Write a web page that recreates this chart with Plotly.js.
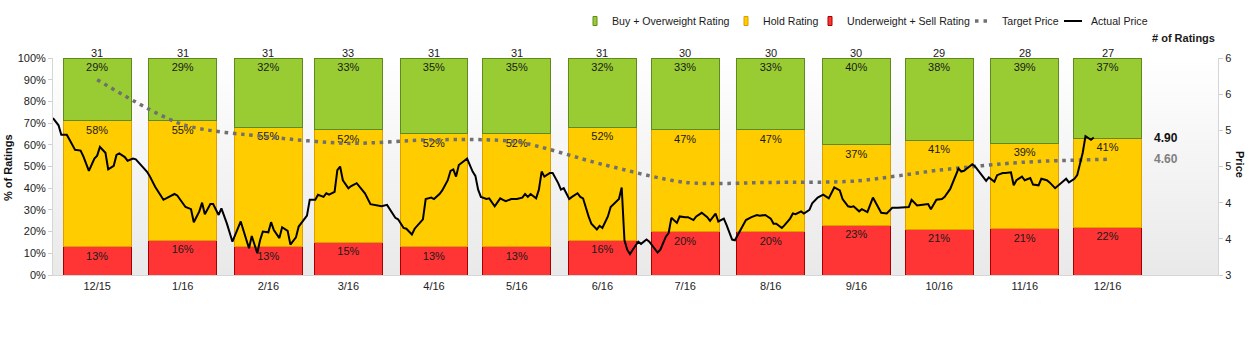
<!DOCTYPE html>
<html>
<head>
<meta charset="utf-8">
<script src="https://cdn.plot.ly/plotly-3.0.1.min.js"></script>
<style>html,body{margin:0;padding:0;background:#fff;}#chart{width:1249px;height:338px;}</style>
</head>
<body>
<div id="chart"></div>
<script>
// ---- data ----
const categories = ['12/15','1/16','2/16','3/16','4/16','5/16','6/16','7/16','8/16','9/16','10/16','11/16','12/16'];
const barDates = ['2015-12-16','2016-01-16','2016-02-16','2016-03-16','2016-04-16','2016-05-16','2016-06-16','2016-07-16','2016-08-16','2016-09-16','2016-10-16','2016-11-16','2016-12-16'];
const buyPct  = [29,29,32,33,35,35,32,33,33,40,38,39.3,37];
const holdPct = [58,55,55,52,52,52,52,47,47,37,41,39.3,41];
const sellPct = [13,16,13,15,13,13,16,20,20,23,21,21.4,22];
const ratingCounts = [31,31,31,33,31,31,31,30,30,30,29,28,27];
const targetPrice = [5.70,5.08,4.91,4.82,4.87,4.84,4.53,4.28,4.28,4.30,4.45,4.56,4.60];

const priceDates = [
'2015-11-30','2015-12-02','2015-12-03','2015-12-05','2015-12-06','2015-12-08','2015-12-10','2015-12-11','2015-12-13','2015-12-15',
'2015-12-16','2015-12-17','2015-12-19','2015-12-20','2015-12-22','2015-12-23','2015-12-24','2015-12-26','2015-12-27','2015-12-29',
'2015-12-30','2016-01-01','2016-01-03','2016-01-04','2016-01-06','2016-01-09','2016-01-11','2016-01-13','2016-01-14','2016-01-16',
'2016-01-17','2016-01-19','2016-01-20','2016-01-22','2016-01-23','2016-01-24','2016-01-26','2016-01-27','2016-01-29','2016-01-30',
'2016-02-01','2016-02-03','2016-02-05','2016-02-06','2016-02-08','2016-02-09','2016-02-10','2016-02-12','2016-02-13','2016-02-14',
'2016-02-16','2016-02-17','2016-02-18','2016-02-20','2016-02-21','2016-02-23','2016-02-24','2016-02-26','2016-02-27','2016-03-01',
'2016-03-02','2016-03-04','2016-03-05','2016-03-07','2016-03-08','2016-03-09','2016-03-11','2016-03-12','2016-03-13','2016-03-14',
'2016-03-16','2016-03-17','2016-03-19','2016-03-20','2016-03-22','2016-03-24','2016-03-26','2016-03-28','2016-03-30','2016-04-01',
'2016-04-02','2016-04-03','2016-04-05','2016-04-06','2016-04-08','2016-04-09','2016-04-12','2016-04-13','2016-04-15','2016-04-16',
'2016-04-18','2016-04-19','2016-04-21','2016-04-22','2016-04-23','2016-04-24','2016-04-25',
'2016-04-27','2016-04-28','2016-04-30','2016-05-01','2016-05-02','2016-05-03','2016-05-05','2016-05-06','2016-05-08','2016-05-10',
'2016-05-11','2016-05-12','2016-05-14','2016-05-16','2016-05-18','2016-05-19','2016-05-20','2016-05-21','2016-05-23','2016-05-24',
'2016-05-25','2016-05-26','2016-05-28','2016-05-29','2016-05-31','2016-06-01','2016-06-02','2016-06-04','2016-06-05','2016-06-07',
'2016-06-08','2016-06-09','2016-06-11','2016-06-12','2016-06-14','2016-06-15','2016-06-16','2016-06-18','2016-06-19','2016-06-21',
'2016-06-22','2016-06-23','2016-06-24','2016-06-25','2016-06-26','2016-06-27','2016-06-29','2016-06-30','2016-07-02','2016-07-03',
'2016-07-05','2016-07-06','2016-07-07','2016-07-09','2016-07-10','2016-07-11','2016-07-13','2016-07-14','2016-07-16','2016-07-17',
'2016-07-19','2016-07-20','2016-07-22','2016-07-24','2016-07-25','2016-07-27','2016-07-28','2016-07-30','2016-07-31','2016-08-02',
'2016-08-03','2016-08-04','2016-08-06','2016-08-07','2016-08-09','2016-08-11','2016-08-12','2016-08-14','2016-08-16','2016-08-17',
'2016-08-18','2016-08-20','2016-08-21','2016-08-23','2016-08-24','2016-08-25','2016-08-27','2016-08-28','2016-08-30','2016-08-31',
'2016-09-02','2016-09-04','2016-09-06','2016-09-07','2016-09-08','2016-09-10','2016-09-11','2016-09-13','2016-09-14','2016-09-15',
'2016-09-17',
'2016-09-18','2016-09-20','2016-09-22','2016-09-24','2016-09-25','2016-09-27','2016-09-28','2016-09-29','2016-10-01','2016-10-03',
'2016-10-05','2016-10-06','2016-10-08','2016-10-10','2016-10-12','2016-10-13','2016-10-15','2016-10-17','2016-10-18','2016-10-20',
'2016-10-21','2016-10-23','2016-10-24','2016-10-25','2016-10-28','2016-10-29','2016-10-31','2016-11-02','2016-11-03','2016-11-05',
'2016-11-06','2016-11-08','2016-11-09','2016-11-11','2016-11-12','2016-11-13','2016-11-15','2016-11-16','2016-11-18','2016-11-19',
'2016-11-21','2016-11-22','2016-11-24','2016-11-25','2016-11-27','2016-11-29','2016-12-01','2016-12-02','2016-12-04','2016-12-05',
'2016-12-06','2016-12-07','2016-12-08','2016-12-09','2016-12-10','2016-12-11'
];
const priceValues = [
5.17,5.07,4.94,4.94,4.87,4.73,4.72,4.64,4.44,4.61,
4.65,4.77,4.69,4.46,4.51,4.66,4.68,4.63,4.58,4.61,
4.60,4.52,4.43,4.37,4.22,4.04,4.08,4.12,4.10,4.00,
3.94,3.91,3.73,3.88,4.00,3.84,3.98,3.98,3.83,3.92,
3.71,3.46,3.66,3.74,3.49,3.37,3.54,3.30,3.48,3.60,
3.59,3.73,3.62,3.51,3.66,3.61,3.42,3.52,3.67,3.82,
4.04,4.04,4.11,4.08,4.13,4.11,4.15,4.45,4.50,4.31,
4.20,4.23,4.27,4.22,4.13,3.98,3.97,3.95,3.97,3.86,
3.79,3.77,3.65,3.64,3.56,3.64,3.77,4.05,4.07,4.05,
4.12,4.17,4.31,4.44,4.46,4.36,4.52,
4.58,4.61,4.43,4.37,4.18,4.08,4.05,4.06,3.95,4.06,
4.04,4.02,4.05,4.05,4.07,4.12,4.08,4.12,4.06,4.18,
4.43,4.36,4.41,4.41,4.27,4.18,4.20,4.05,4.08,4.13,
4.08,4.06,3.81,3.71,3.63,3.68,3.65,3.81,3.94,4.01,
4.05,4.21,3.48,3.35,3.29,3.35,3.46,3.43,3.49,3.46,
3.36,3.31,3.35,3.53,3.58,3.79,3.72,3.81,3.80,3.80,
3.76,3.81,3.86,3.80,3.75,3.85,3.74,3.78,3.69,3.49,
3.48,3.55,3.68,3.76,3.80,3.83,3.82,3.83,3.78,3.71,
3.71,3.65,3.69,3.78,3.85,3.84,3.88,3.85,3.90,3.99,
4.07,4.11,4.06,4.14,4.21,4.17,4.05,3.95,3.94,3.95,
3.88,
3.91,3.87,4.07,3.94,3.86,3.85,3.89,3.93,3.93,3.94,
3.94,4.04,3.96,3.97,3.98,3.91,4.04,4.05,4.08,4.19,
4.29,4.47,4.43,4.44,4.53,4.50,4.40,4.30,4.35,4.29,
4.38,4.41,4.41,4.42,4.24,4.31,4.36,4.31,4.34,4.25,
4.24,4.33,4.31,4.28,4.20,4.27,4.33,4.28,4.33,4.38,
4.54,4.69,4.92,4.90,4.87,4.90
];

const pctTickVals = [0,10,20,30,40,50,60,70,80,90,100];
const pctTickText = ['0%','10%','20%','30%','40%','50%','60%','70%','80%','90%','100%'];
const priceTickVals = [3,3.5,4,4.5,5,5.5,6];
const priceTickText = ['3','4','4','5','5','6','6'];
const legendNames = ['Buy + Overweight Rating','Hold Rating','Underweight + Sell Rating','Target Price','Actual Price'];

// ---- styling ----
const FONT = 'Liberation Sans, Arial, sans-serif';
const DAY = 86400000;
const barWidth = 24.6 * DAY;
const pctFont = {family: FONT, size: 11, color: '#1a1a1a'};
const COLORS = {
  buy: ['#99cc33', '#5f8a1e'], hold: ['#ffcc00', '#dc9e00'], sell: ['#ff3535', '#a30000'],
  target: '#707070', price: '#000000'
};
const TARGET_DASH = '3.5px,4.7px';

// plot area in pixels: x 53..1218, y 58..275
const PL = 53, PW = 1165, PB = 275, PH = 217;
const px = v => (v - PL) / PW;
const py = v => (PB - v) / PH;

function barTrace(name, vals, col) {
  return {
    type: 'bar', name: name, x: barDates, y: vals, width: barWidth,
    marker: {color: col[0], line: {color: col[1], width: 1}},
    text: vals.map(v => Math.round(v) + '%'), texttemplate: '%{text}',
    textposition: 'inside', insidetextanchor: 'end',
    textangle: 0, constraintext: 'none',
    insidetextfont: pctFont, textfont: pctFont, hoverinfo: 'skip'
  };
}

const traces = [
  barTrace(legendNames[2], sellPct, COLORS.sell),
  barTrace(legendNames[1], holdPct, COLORS.hold),
  barTrace(legendNames[0], buyPct, COLORS.buy),
  {
    type: 'scatter', mode: 'lines', name: legendNames[3], x: barDates, y: targetPrice,
    yaxis: 'y2', line: {color: COLORS.target, width: 3.5, dash: TARGET_DASH, shape: 'spline', smoothing: 0.8},
    hoverinfo: 'skip'
  },
  {
    type: 'scatter', mode: 'lines', name: legendNames[4], x: priceDates, y: priceValues,
    yaxis: 'y2', line: {color: COLORS.price, width: 2}, hoverinfo: 'skip'
  }
];

const annotations = [];
ratingCounts.forEach((c, i) => {
  annotations.push({x: barDates[i], y: 100, xref: 'x', yref: 'y', text: String(c),
    showarrow: false, xanchor: 'center', yanchor: 'bottom', yshift: -3,
    font: {family: FONT, size: 11, color: '#1a1a1a'}});
});
annotations.push({xref: 'paper', yref: 'paper', x: px(1183.5), y: py(37.7), xanchor: 'center', yanchor: 'middle',
  text: '<b># of Ratings</b>', showarrow: false, font: {family: FONT, size: 11, color: '#1a1a1a'}});
annotations.push({xref: 'paper', yref: 'y2', x: px(1152), y: priceValues[priceValues.length-1], xanchor: 'left', yanchor: 'middle',
  text: '<b>' + priceValues[priceValues.length-1].toFixed(2) + '</b>', showarrow: false,
  font: {family: FONT, size: 12, color: '#111'}});
annotations.push({xref: 'paper', yref: 'y2', x: px(1152), y: targetPrice[targetPrice.length-1], xanchor: 'left', yanchor: 'middle',
  text: '<b>' + targetPrice[targetPrice.length-1].toFixed(2) + '</b>', showarrow: false,
  font: {family: FONT, size: 12, color: '#808080'}});
annotations.push({xref: 'paper', yref: 'paper', x: px(8), y: py(167), xanchor: 'center', yanchor: 'middle', textangle: -90,
  text: '<b>% of Ratings</b>', showarrow: false, font: {family: FONT, size: 11, color: '#111'}});
annotations.push({xref: 'paper', yref: 'paper', x: px(1240), y: py(164), xanchor: 'center', yanchor: 'middle', textangle: 90,
  text: '<b>Price</b>', showarrow: false, font: {family: FONT, size: 11, color: '#111'}});

// ---- hand-drawn legend (compact, like the original) ----
const LEG_Y = 21;
const legendText = [610, 761, 845, 1000, 1088.5];
legendNames.forEach((n, i) => {
  annotations.push({xref: 'paper', yref: 'paper', x: px(legendText[i]), y: py(LEG_Y), xanchor: 'left', yanchor: 'middle',
    text: n, showarrow: false, font: {family: FONT, size: 10.6, color: '#1a1a1a'}});
});
const shapes = [];
[[593, COLORS.buy], [744, COLORS.hold], [828, COLORS.sell]].forEach(([x0, col]) => {
  shapes.push({type: 'rect', xref: 'paper', yref: 'paper', x0: px(x0), x1: px(x0 + 4), y0: py(LEG_Y + 4.5), y1: py(LEG_Y - 4.5),
    fillcolor: col[0], line: {color: col[1], width: 1}});
});
shapes.push({type: 'line', xref: 'paper', yref: 'paper', x0: px(975), x1: px(987), y0: py(LEG_Y), y1: py(LEG_Y),
  line: {color: COLORS.target, width: 3.5, dash: '3.5px,5px'}});
shapes.push({type: 'line', xref: 'paper', yref: 'paper', x0: px(1064), x1: px(1082), y0: py(LEG_Y), y1: py(LEG_Y),
  line: {color: COLORS.price, width: 2}});

const gradSvg = '<svg xmlns="http://www.w3.org/2000/svg" width="100" height="100" preserveAspectRatio="none">' +
  '<defs><linearGradient id="g" x1="0" y1="0" x2="0" y2="1"><stop offset="0" stop-color="#ffffff"/>' +
  '<stop offset="1" stop-color="#e9e9e9"/></linearGradient></defs><rect width="100" height="100" fill="url(#g)"/></svg>';

const layout = {
  width: 1249, height: 338,
  margin: {l: 53, r: 31, t: 58, b: 63, pad: 0},
  paper_bgcolor: '#ffffff', plot_bgcolor: '#f6f6f6',
  font: {family: FONT, size: 11, color: '#222'},
  barmode: 'stack', bargap: 0,
  showlegend: false,
  xaxis: {type: 'date', range: ['2015-11-30', '2017-01-25'], tickvals: barDates, ticktext: categories,
    showgrid: false, zeroline: false, showline: true, linecolor: '#d6d6d6', linewidth: 1,
    ticks: 'outside', ticklen: 1, tickcolor: 'rgba(0,0,0,0)', tickfont: {family: FONT, size: 11, color: '#222'},
    fixedrange: true},
  yaxis: {range: [0, 100], tickvals: pctTickVals, ticktext: pctTickText, showgrid: false, zeroline: false,
    showline: true, linecolor: '#d6d6d6', ticks: 'outside', ticklen: 4, tickcolor: '#cfcfcf',
    tickfont: {family: FONT, size: 11, color: '#222'}, fixedrange: true},
  yaxis2: {overlaying: 'y', side: 'right', range: [3, 6], tickvals: priceTickVals, ticktext: priceTickText,
    showgrid: false, zeroline: false, showline: true, linecolor: '#d6d6d6', ticks: 'outside', ticklen: 4,
    tickcolor: '#cfcfcf', tickfont: {family: FONT, size: 11, color: '#222'}, fixedrange: true},
  images: [{source: 'data:image/svg+xml;utf8,' + encodeURIComponent(gradSvg), xref: 'paper', yref: 'paper',
    x: 0, y: 1, sizex: 1, sizey: 1, sizing: 'stretch', xanchor: 'left', yanchor: 'top', layer: 'below'}],
  annotations: annotations,
  shapes: shapes,
  hovermode: false
};

Plotly.newPlot('chart', traces, layout, {displayModeBar: false, staticPlot: true});
</script>
</body>
</html>
